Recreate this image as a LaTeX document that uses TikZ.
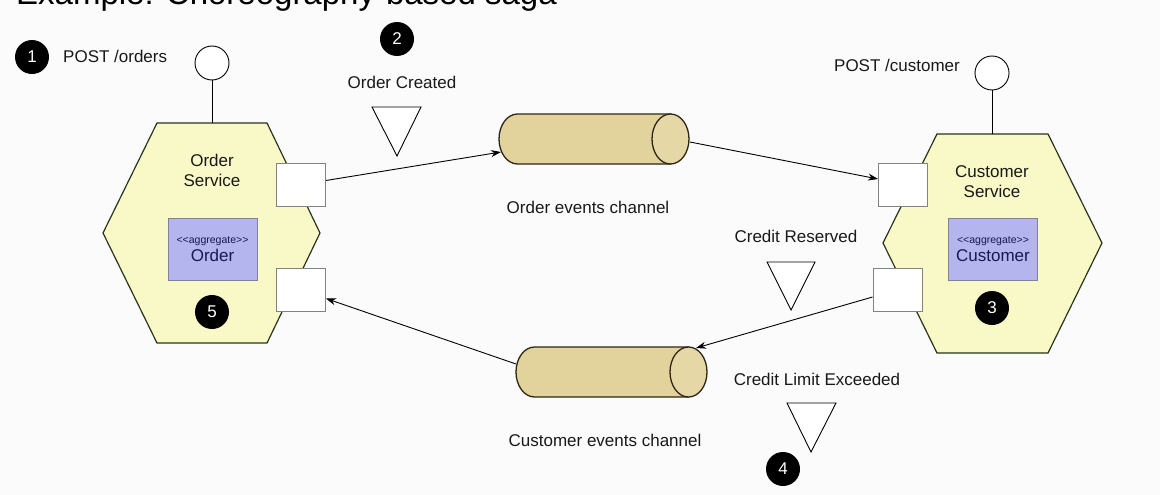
\documentclass[tikz,border=0pt]{standalone}
\usepackage{fontspec}
\setmainfont{Liberation Sans}
\usetikzlibrary{arrows.meta,calc}
\definecolor{hexfill}{RGB}{249,249,199}
\definecolor{hexedge}{RGB}{40,52,28}
\definecolor{aggfill}{RGB}{180,180,238}
\definecolor{aggedge}{RGB}{130,130,150}
\definecolor{aggtext}{RGB}{25,25,80}
\definecolor{cylfill}{RGB}{226,211,156}
\definecolor{cylend}{RGB}{229,216,166}
\definecolor{cyledge}{RGB}{45,38,22}
\definecolor{portedge}{RGB}{130,130,130}
\definecolor{bgcol}{RGB}{251,251,251}
\begin{document}
\begin{tikzpicture}[x=1pt,y=-1pt,
  lbl/.style={font=\fontsize{17}{19.5}\selectfont, align=center, inner sep=0pt, text=black!90},
  num/.style={circle, fill=black, minimum size=34pt, inner sep=0pt, text=white, font=\fontsize{17}{20}\selectfont},
  iface/.style={circle, draw=black, fill=white, minimum size=34pt, inner sep=0pt, line width=0.9pt},
  port/.style={draw=portedge, fill=white, minimum width=49pt, minimum height=43pt, inner sep=0pt, line width=0.9pt},
  agg/.style={draw=aggedge, fill=aggfill, minimum width=89pt, minimum height=62pt, inner sep=0pt, line width=0.8pt, align=center, text=aggtext},
  hex/.style={draw=hexedge, fill=hexfill, line width=1.2pt, line join=miter},
  cyl/.style={draw=cyledge, fill=cylfill, line width=1.3pt},
  evt/.style={draw=black, fill=white, line width=0.9pt, line join=miter},
  conn/.style={draw=black, line width=0.9pt, -{Stealth[length=10pt,width=7pt]}},
  stem/.style={draw=black, line width=0.9pt},
]
\clip (0,0) rectangle (1160,495);
\fill[bgcol] (0,0) rectangle (1160,495);

% title (cut off at the top, as in the reference)
\node[anchor=base west, inner sep=0pt, font=\fontsize{33}{36}\selectfont] (title) at (16,5) {Example: Choreography-based saga};

% hexagons
\path[hex] (157,123) -- (267,123) -- (320,233) -- (267,343) -- (157,343) -- (103,233) -- cycle;
\path[hex] (937,134) -- (1048,134) -- (1102,243) -- (1048,353) -- (937,353) -- (883,243) -- cycle;
\coordinate (ohtop) at (212,123);
\coordinate (chtop) at (992,134);

% interfaces
\node[iface] (oif) at (212,63) {};
\node[iface] (cif) at (992,73) {};
\draw[stem] (oif.south) -- (ohtop);
\draw[stem] (cif.south) -- (chtop);

\node[lbl, anchor=west] (postord) at (63,56) {POST /orders};
\node[lbl, anchor=east] (postcus) at (960,65) {POST /customer};

% service labels
\node[lbl] (osvc) at (212,170.5) {Order\\Service};
\node[lbl] (csvc) at (992,181.5) {Customer\\Service};

% aggregates
\node[agg] (oagg) at (212.5,249) {\fontsize{10.5}{12}\selectfont <\kern0pt<aggregate>\kern0pt>\\[2.5pt]\fontsize{17}{18}\selectfont Order};
\node[agg] (cagg) at (993,249) {\fontsize{10.5}{12}\selectfont <\kern0pt<aggregate>\kern0pt>\\[2.5pt]\fontsize{17}{18}\selectfont Customer};

% ports
\node[port] (op1) at (301,184.5) {};
\node[port] (op2) at (301,289.5) {};
\node[port] (cp1) at (903,185) {};
\node[port] (cp2) at (897.5,290) {};

% channels
\path[cyl] (670.5,114) -- (517.5,114) .. controls (507.3,114) and (499,125.2) .. (499,139) .. controls (499,152.8) and (507.3,164) .. (517.5,164) -- (670.5,164) -- cycle;
\path[cyl, fill=cylend] (670.5,139) ellipse [x radius=18.5pt, y radius=25pt];
\path[cyl] (688.5,347) -- (534.5,347) .. controls (524.3,347) and (516,358.2) .. (516,372) .. controls (516,385.8) and (524.3,397) .. (534.5,397) -- (688.5,397) -- cycle;
\path[cyl, fill=cylend] (688.5,372) ellipse [x radius=18.5pt, y radius=25pt];
\coordinate (ocin) at (501,152);
\coordinate (ocout) at (690,142);
\coordinate (ccin) at (696,348);
\coordinate (ccout) at (516,364);

\node[lbl] (ocl) at (588,207) {Order events channel};
\node[lbl] (ccl) at (605,440) {Customer events channel};

% events
\path[evt] (372,107) -- (421,107) -- (397,156) -- cycle;
\path[evt] (767,262) -- (815,262) -- (791,310) -- cycle;
\path[evt] (787,403) -- (836,403) -- (811,452) -- cycle;
\node[lbl] (ecr) at (402,82) {Order Created};
\node[lbl] (ers) at (796,236) {Credit Reserved};
\node[lbl] (elx) at (817,379) {Credit Limit Exceeded};

% connectors
\draw[conn] ($(op1.east)+(0,-4)$) -- (ocin);
\draw[conn] (ocout) -- ($(cp1.west)+(0,-6)$);
\draw[conn] ($(cp2.west)+(0,7)$) -- (ccin);
\draw[conn] (ccout) -- ($(op2.east)+(0,9)$);

% step numbers
\node[num] (n1) at (32,57) {1};
\node[num] (n2) at (397,39) {2};
\node[num] (n3) at (992,308) {3};
\node[num] (n4) at (783,469) {4};
\node[num] (n5) at (212,312) {5};
\end{tikzpicture}
\end{document}
